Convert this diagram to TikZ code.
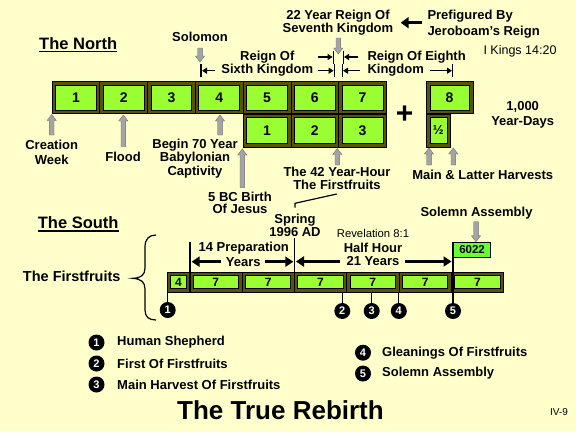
\documentclass[tikz,border=0pt]{standalone}
\usepackage{fontspec}
\setmainfont{Liberation Sans}
\usetikzlibrary{arrows.meta,calc}
\definecolor{bg}{HTML}{FFFFCC}
\definecolor{boxgreen}{HTML}{99FF33}
\definecolor{flaggreen}{HTML}{66FF33}
\definecolor{boxdark}{RGB}{90,84,10}
\definecolor{agray}{HTML}{A4A4A4}
\definecolor{aedge}{HTML}{6E6E6E}
\newcommand\fs[1]{\fontsize{#1}{#1}\selectfont}
\newcommand\fsb[2]{\fontsize{#1}{#2}\selectfont}
\newcommand\tilebox[7]{%
  \node[outerbox, minimum width=#4pt, minimum height=#5pt] (#1) at (#2,#3) {};
  \node[innerbox, minimum width=#4pt-7pt, minimum height=#5pt-7pt, font=\bfseries\fs{#6}] (#1i) at (#1.center) {#7};
}
\newcommand\gup[3]{\draw[garrow] (#1-2.3,#3) -- (#1-2.3,#2+6) -- (#1-4.6,#2+6) -- (#1,#2) -- (#1+4.6,#2+6) -- (#1+2.3,#2+6) -- (#1+2.3,#3) -- cycle;}
\newcommand\gdown[3]{\draw[garrow] (#1-2.3,#2) -- (#1-2.3,#3-6) -- (#1-4.6,#3-6) -- (#1,#3) -- (#1+4.6,#3-6) -- (#1+2.3,#3-6) -- (#1+2.3,#2) -- cycle;}
\begin{document}
\begin{tikzpicture}[x=1pt,y=-1pt,
  lbl/.style={font=\bfseries\fs{13}, inner sep=0, align=center},
  reg/.style={font=\fs{11.5}, inner sep=0},
  outerbox/.style={draw=black, fill=boxdark, line width=0.7pt, inner sep=0, anchor=north west},
  innerbox/.style={draw=black, fill=boxgreen, line width=0.7pt, inner sep=0},
  marker/.style={circle, fill=black, text=white, inner sep=0, minimum size=16pt, font=\bfseries\fs{11}},
  bigarrow/.style={line width=3pt, -{Triangle[length=8pt,width=10pt]}},
  smallarrow/.style={line width=1.3pt, -{Triangle[length=5pt,width=6pt]}},
  barline/.style={line width=1.3pt},
  tick/.style={line width=1.2pt},
  uline/.style={line width=1.4pt},
  garrow/.style={fill=agray, draw=aedge, line width=0.4pt}]
\fill[bg] (0,0) rectangle (576,432);
\useasboundingbox (0,0) rectangle (576,432);

% ---------- North ----------
\node[lbl, font=\bfseries\fs{16.5}, anchor=west] (north) at (39,43.3) {The North};
\draw[uline] ($(north.south west)+(0,2)$) -- ($(north.south east)+(0,2)$);

\tilebox{n1}{51.7}{81}{47.76}{32}{14}{1}
\tilebox{n2}{99.46}{81}{47.76}{32}{14}{2}
\tilebox{n3}{147.22}{81}{47.76}{32}{14}{3}
\tilebox{n4}{194.98}{81}{47.76}{32}{14}{4}
\tilebox{n5}{242.74}{81}{47.76}{32}{14}{5}
\tilebox{n6}{290.5}{81}{47.76}{32}{14}{6}
\tilebox{n7}{338.26}{81}{47.76}{32}{14}{7}
\tilebox{n8}{426}{81}{46.5}{32}{14}{8}
\tilebox{b1}{242.74}{113.5}{47.76}{33}{14}{1}
\tilebox{b2}{290.5}{113.5}{47.76}{33}{14}{2}
\tilebox{b3}{338.26}{113.5}{47.76}{33}{14}{3}
\tilebox{bh}{426}{113.5}{24}{33}{13}{½}

\node[inner sep=0, font=\bfseries\fs{30}] (plus) at (404.7,114.7) {+};

\node[lbl] (solomon) at (200,37.3) {Solomon};
\gdown{200}{48}{62}

\node[lbl, font=\bfseries\fsb{13}{13.3}] (y22) at (338,22.7) {22 Year Reign Of\\Seventh Kingdom};
\gdown{338.3}{38}{54}
\node[lbl, font=\bfseries\fsb{13}{16.3}, align=left, anchor=west] (pref) at (427.3,24.2) {Prefigured By\\Jeroboam's Reign};
\coordinate (prefA) at (421.7,22.7);
\coordinate (prefB) at (400.7,22.7);
\draw[line width=3.5pt, -{Triangle[length=8pt,width=11pt]}] (prefA) -- (prefB);
\node[reg, font=\fs{12.5}] (kings) at (520,51.7) {I Kings 14:20};

\node[lbl, font=\bfseries\fsb{13}{13.7}] (r6) at (267.3,63.8) {Reign Of\\Sixth Kingdom};
\node[lbl, font=\bfseries\fsb{13}{13.7}, align=left, anchor=west] (r8) at (367.3,63.8) {Reign Of Eighth\\Kingdom};

% bracket marks
\coordinate (k6a) at (201,64);   \coordinate (k6b) at (201,77);
\draw[barline] (k6a) -- (k6b);
\draw[smallarrow] (215,70.7) -- (202,70.7);
\coordinate (k7a) at (333.3,50.5); \coordinate (k7b) at (333.3,63.5);
\draw[barline] (k7a) -- (k7b);
\draw[smallarrow] (318.3,57) -- (332.6,57);
\coordinate (k7c) at (343.3,50.5); \coordinate (k7d) at (343.3,63.5);
\draw[barline] (k7c) -- (k7d);
\draw[smallarrow] (358,57) -- (344,57);
\coordinate (k6c) at (334.3,64); \coordinate (k6d) at (334.3,77);
\draw[barline] (k6c) -- (k6d);
\draw[smallarrow] (318,70.7) -- (333.6,70.7);
\coordinate (k8a) at (342.3,64); \coordinate (k8b) at (342.3,77);
\draw[barline] (k8a) -- (k8b);
\draw[smallarrow] (360,70.7) -- (343,70.7);
\coordinate (k8c) at (452.7,64); \coordinate (k8d) at (452.7,77);
\draw[barline] (k8c) -- (k8d);
\draw[smallarrow] (430,70.7) -- (452,70.7);

\node[lbl, font=\bfseries\fsb{13}{15}] (yd) at (522.7,115) {1,000\\Year-Days};

% labels below north row
\gup{51.7}{114.5}{135}
\node[lbl, font=\bfseries\fsb{13}{14.3}] (creation) at (51.7,152.2) {Creation\\Week};
\gup{123.3}{115}{146.7}
\node[lbl] (flood) at (123,156.7) {Flood};
\gup{220}{115}{135}
\node[lbl, font=\bfseries\fsb{13}{13.3}] (begin) at (195,158.4) {Begin 70 Year\\Babylonian\\Captivity};
\gup{242.3}{149}{187.3}
\node[lbl, font=\bfseries\fsb{13}{12.6}] (birth) at (240,203) {5 BC Birth\\Of Jesus};
\gup{337.3}{148.5}{165}
\node[lbl, font=\bfseries\fsb{13}{13.3}] (hour) at (337,178.3) {The 42 Year-Hour\\The Firstfruits};
\gup{429}{148}{165}
\gup{453.3}{148}{165}
\node[lbl] (harv) at (482.7,175) {Main \& Latter Harvests};

% ---------- South ----------
\node[lbl, font=\bfseries\fs{16.5}, anchor=west] (south) at (37.7,222.7) {The South};
\draw[uline] ($(south.south west)+(0,2)$) -- ($(south.south east)+(0,2)$);

\node[lbl, font=\bfseries\fsb{13}{11.8}] (spring) at (295,225) {Spring\\1996 AD};
\coordinate (h1) at (336.7,194);
\coordinate (h2) at (295,203.3);
\coordinate (h3) at (295,207.7);
\draw[line width=1.2pt] (h1) -- (h2) -- (h3);

\node[lbl] (solemn) at (476.5,212.7) {Solemn Assembly};
\gdown{476}{221.7}{241.7}
\node[reg, font=\fs{11.3}] (rev) at (373,233.3) {Revelation 8:1};
\node[lbl] (halfhour) at (373,248) {Half Hour};
\node[lbl] (yrs21) at (373,261.5) {21 Years};
\node[lbl] (prep) at (243.8,247.7) {14 Preparation};
\node[lbl] (years) at (243.3,261.7) {Years};

\node[lbl, font=\bfseries\fs{14.5}] (ff) at (71.7,276.7) {The Firstfruits};
\draw[line width=1.2pt] (156,235) .. controls (149,235) and (145,239) .. (145,247) -- (145,268)
  .. controls (145,275) and (141,278) .. (133,278.3) .. controls (141,279) and (145,282) .. (145,289)
  -- (145,310) .. controls (145,317) and (149,320) .. (156,320);

\tilebox{s0}{166.7}{271.7}{22.6}{20}{12}{4}
\tilebox{s1}{189.3}{271.7}{52.33}{20}{12}{7}
\tilebox{s2}{241.63}{271.7}{52.33}{20}{12}{7}
\tilebox{s3}{293.96}{271.7}{52.33}{20}{12}{7}
\tilebox{s4}{346.29}{271.7}{52.33}{20}{12}{7}
\tilebox{s5}{398.62}{271.7}{52.33}{20}{12}{7}
\tilebox{s6}{450.95}{271.7}{52.33}{20}{12}{7}

\node[draw=black, fill=flaggreen, line width=0.8pt, minimum width=37.3pt, minimum height=14.4pt,
  anchor=north west, inner sep=0, font=\bfseries\fs{11.5}] (flag) at (453,242.3) {6022};

\coordinate (v1) at (190,241.7);
\coordinate (v2) at (294.5,238);
\draw[tick] (v1) -- (v1 |- s1.south);
\draw[tick] (v2) -- (v2 |- s3.south);

\draw[bigarrow] ($(years.west)+(-4.5,0)$) -- ($(v1 |- years)+(1.5,0)$);
\draw[bigarrow] ($(years.east)+(4.5,0)$) -- ($(v2 |- years)+(-1.2,0)$);
\draw[bigarrow] ($(yrs21.west)+(-6,0)$) -- ($(v2 |- yrs21)+(1.5,0)$);
\draw[bigarrow] ($(yrs21.east)+(5,0)$) -- ($(flag.north west |- yrs21)+(-1.5,0)$);

\node[marker] (m1) at (167.7,310) {1};
\node[marker] (m2) at (342.3,311) {2};
\node[marker] (m3) at (371.7,311) {3};
\node[marker] (m4) at (398.8,311) {4};
\node[marker] (m5) at (453,311) {5};
\draw[tick] (m1.north) -- (m1.north |- s0.south);
\draw[tick] (m2.north) -- (m2.north |- s3.south);
\draw[tick] (m3.north) -- (m3.north |- s4.south);
\draw[tick] (m4.north) -- (m4.north |- s4.south);
\draw[tick] (flag.north west) -- (m5.north);

% ---------- Legend ----------
\node[marker] (l1) at (96.5,342.5) {1};
\node[marker] (l2) at (96.5,363.5) {2};
\node[marker] (l3) at (96.5,384.5) {3};
\node[marker] (l4) at (363,352.7) {4};
\node[marker] (l5) at (363,373.5) {5};
\node[lbl, anchor=west] (t1) at (117,342.5) {Human Shepherd};
\node[lbl, anchor=west] (t2) at (117,363.5) {First Of Firstfruits};
\node[lbl, anchor=west] (t3) at (117,384.5) {Main Harvest Of Firstfruits};
\node[lbl, anchor=west] (t4) at (382,352.7) {Gleanings Of Firstfruits};
\node[lbl, anchor=west] (t5) at (382,373.5) {Solemn Assembly};

\node[lbl, font=\bfseries\fs{26}] (title) at (280.5,410) {The True Rebirth};
\node[reg, font=\fs{10}] (pg) at (559,412) {IV-9};
\end{tikzpicture}
\end{document}
